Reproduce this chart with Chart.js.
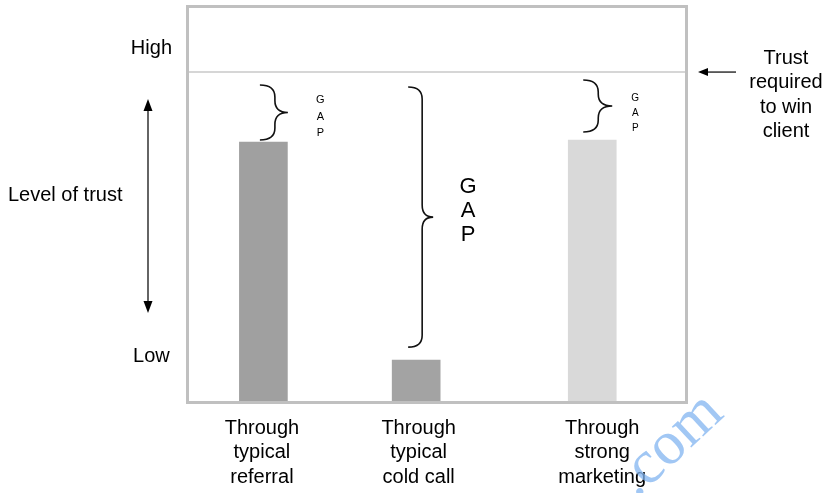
<!DOCTYPE html>
<html>
<head>
<meta charset="utf-8">
<script src="https://cdn.jsdelivr.net/npm/chart.js@4/dist/chart.umd.min.js"></script>
<style>
  body { margin: 0; background: #fff; }
  #wrap { width: 826px; height: 493px; }
</style>
</head>
<body>
<div id="wrap"><canvas id="trustChart" width="826" height="493"></canvas></div>
<script>
// Trust gap chart
var categories = [['Through', 'typical', 'referral'], ['Through', 'typical', 'cold call'], ['Through', 'strong', 'marketing']];
var trustLevels = [65.9, 10.4, 66.4];
var trustRequired = 83.7;
var yTickValues = [11.2, 89.8];
var yTickLabels = ['Low', 'High'];

// where things sit along the x scale (0-100)
var barSlots = [15, 45.8, 81.3];
var labelSlots = [14.7, 46.3, 83.3];
var barColors = ['#a0a0a0', '#a3a3a3', '#d9d9d9'];

// brace look per bar: tip/spine/point offsets from bar centre, top/bottom gaps, letter size
var braceStyles = [
    { tip: -3.5, spine: 11.5, point: 24.5, top: 13, bottom: 2, letterX: 57, letterY: [100, 117, 133], size: 11 },
    { tip: -8, spine: 6, point: 17, top: 15, bottom: 13, letterX: 52, letterY: [187, 211, 235], size: 22 },
    { tip: -9, spine: 6, point: 20, top: 8, bottom: 8, letterX: 43, letterY: [98, 113, 128], size: 10 }
];

var FONT = 'Liberation Sans, Arial, sans-serif';

function drawBrace(ctx, x0, x1, x2, top, bottom) {
    var mid = (top + bottom) / 2;
    var r = Math.min(12, (bottom - top) / 4);
    ctx.beginPath();
    ctx.moveTo(x0, top);
    ctx.quadraticCurveTo(x1, top, x1, top + r);
    ctx.lineTo(x1, mid - r);
    ctx.quadraticCurveTo(x1, mid, x2, mid);
    ctx.quadraticCurveTo(x1, mid, x1, mid + r);
    ctx.lineTo(x1, bottom - r);
    ctx.quadraticCurveTo(x1, bottom, x0, bottom);
    ctx.stroke();
}

function arrowHead(ctx, x, y, dx, dy, len, half) {
    ctx.beginPath();
    ctx.moveTo(x, y);
    ctx.lineTo(x - dx * len - dy * half, y - dy * len + dx * half);
    ctx.lineTo(x - dx * len + dy * half, y - dy * len - dx * half);
    ctx.closePath();
    ctx.fill();
}

var frame = {
    id: 'frame',
    beforeDatasetsDraw: function(chart) {
        var ctx = chart.ctx, a = chart.chartArea;
        var yLine = chart.scales.y.getPixelForValue(trustRequired);
        ctx.save();
        ctx.strokeStyle = '#c8c8c8';
        ctx.lineWidth = 1.5;
        ctx.beginPath();
        ctx.moveTo(a.left, yLine);
        ctx.lineTo(a.right, yLine);
        ctx.stroke();
        ctx.restore();
    },
    afterDatasetsDraw: function(chart) {
        var ctx = chart.ctx, a = chart.chartArea;
        var xs = chart.scales.x, ys = chart.scales.y;
        var yLine = ys.getPixelForValue(trustRequired);
        ctx.save();
        // box
        ctx.strokeStyle = '#c0c0c0';
        ctx.lineWidth = 3;
        ctx.strokeRect(a.left - 1.5, a.top - 1.5, a.right - a.left + 3, a.bottom - a.top + 3);

        // braces + GAP
        ctx.strokeStyle = '#111';
        ctx.fillStyle = '#000';
        ctx.lineWidth = 1.6;
        ctx.textAlign = 'center';
        ctx.textBaseline = 'middle';
        trustLevels.forEach(function(v, i) {
            var s = braceStyles[i];
            var c = xs.getPixelForValue(barSlots[i]);
            var barTop = ys.getPixelForValue(v);
            drawBrace(ctx, c + s.tip, c + s.spine, c + s.point, yLine + s.top, barTop - s.bottom);
            ctx.font = s.size + 'px ' + FONT;
            ['G', 'A', 'P'].forEach(function(ch, k) {
                ctx.fillText(ch, c + s.letterX, s.letterY[k]);
            });
        });

        // left label + double arrow
        ctx.font = '20px ' + FONT;
        ctx.textAlign = 'left';
        ctx.fillText('Level of trust', 8, 195);
        ctx.lineWidth = 1.3;
        ctx.beginPath();
        ctx.moveTo(148, 108);
        ctx.lineTo(148, 304);
        ctx.stroke();
        arrowHead(ctx, 148, 99, 0, -1, 12, 4.5);
        arrowHead(ctx, 148, 313, 0, 1, 12, 4.5);

        // right label + arrow
        ctx.textAlign = 'center';
        ['Trust', 'required', 'to win', 'client'].forEach(function(t, k) {
            ctx.fillText(t, 786, 58 + k * 24.5);
        });
        ctx.beginPath();
        ctx.moveTo(736, yLine);
        ctx.lineTo(706, yLine);
        ctx.stroke();
        arrowHead(ctx, 698, yLine, -1, 0, 10, 4);

        // watermark
        ctx.translate(636, 499);
        ctx.rotate(-0.75);
        ctx.fillStyle = 'rgba(130,180,240,0.75)';
        ctx.font = '62px Liberation Serif, serif';
        ctx.textAlign = 'left';
        ctx.textBaseline = 'alphabetic';
        ctx.fillText('.com', 0, 0);
        ctx.restore();
    }
};

var ctx = document.getElementById('trustChart').getContext('2d');
var trustChart = new Chart(ctx, {
    type: 'bar',
    data: {
        datasets: [{
            data: trustLevels.map(function(v, i) { return { x: barSlots[i], y: v }; }),
            backgroundColor: barColors,
            borderWidth: 0,
            barThickness: 48
        }]
    },
    options: {
        responsive: false,
        animation: false,
        devicePixelRatio: 1,
        layout: { padding: { top: 8, right: 141, bottom: 0, left: 0 } },
        plugins: { legend: { display: false }, tooltip: { enabled: false } },
        scales: {
            x: {
                type: 'linear',
                min: 0,
                max: 100,
                offset: false,
                grid: { display: false, drawTicks: false },
                border: { display: false },
                afterBuildTicks: function(scale) {
                    scale.ticks = labelSlots.map(function(v) { return { value: v }; });
                },
                afterFit: function(scale) {
                    scale.height = 92;
                    scale.paddingLeft = 0;
                    scale.paddingRight = 0;
                },
                ticks: {
                    color: '#000',
                    padding: 15,
                    maxRotation: 0,
                    autoSkip: false,
                    font: { family: FONT, size: 20, lineHeight: 1.22 },
                    callback: function(value, index) { return categories[index]; }
                }
            },
            y: {
                min: 0,
                max: 100,
                grid: { display: false, drawTicks: false },
                border: { display: false },
                afterBuildTicks: function(scale) {
                    scale.ticks = yTickValues.map(function(v) { return { value: v }; });
                },
                afterFit: function(scale) {
                    scale.width = 189;
                    scale.paddingTop = 0;
                    scale.paddingBottom = 0;
                },
                ticks: {
                    color: '#000',
                    padding: 17,
                    crossAlign: 'center',
                    font: { family: FONT, size: 20 },
                    callback: function(value, index) { return yTickLabels[index]; }
                }
            }
        }
    },
    plugins: [frame]
});
</script>
</body>
</html>
